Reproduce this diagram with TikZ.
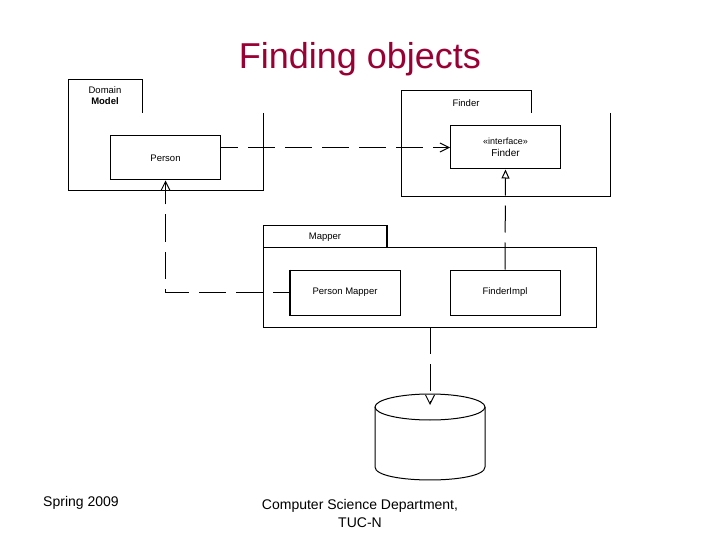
\documentclass[tikz,border=0pt]{standalone}
\usepackage{fontspec}
\setmainfont{Liberation Sans}
\usetikzlibrary{arrows.meta}
\definecolor{titlered}{RGB}{153,0,51}
\begin{document}
\begin{tikzpicture}[x=1pt,y=-1pt,line width=1pt,
  box/.style={draw, rectangle, minimum width=110pt, minimum height=44pt, inner sep=0pt, font=\fontsize{9.5}{11}\selectfont},
  small/.style={font=\fontsize{9.5}{11}\selectfont, inner sep=0pt, align=center},
  dep/.style={dash pattern=on 27pt off 10pt, dash phase=10pt, -{Straight Barb[length=9pt,width=9pt]}},
  real/.style={dash pattern=on 27pt off 10pt, -{Triangle[open,length=9pt,width=8pt]}},
  heavy/.style={line width=2pt}]
\useasboundingbox (0,0) rectangle (720,540);
% title and footer
\node[text=titlered, font=\fontsize{36}{40}\selectfont, inner sep=0pt] (title) at (360,59) {Finding objects};
\node[font=\fontsize{14}{18}\selectfont, inner sep=0pt] (spring) at (81,503) {Spring 2009};
\node[font=\fontsize{14}{18}\selectfont, inner sep=0pt, align=center] (dept) at (360,513) {Computer Science Department,\\TUC-N};
% Domain Model package
\draw (263,113) -- (263,191) -- (68,191) -- (68,80) -- (142,80) -- (142,113);
\node[small] (dmlabel) at (105,96) {Domain\\\textbf{Model}};
% Finder package
\draw (610,113) -- (610,197) -- (401,197) -- (401,91) -- (531,91) -- (531,113);
\node[small] (finderlabel) at (466,103) {Finder};
% Mapper package
\draw (263,247) -- (263,226) -- (387,226) -- (387,247);
\draw[heavy] (387,226) -- (387,247);
\draw (263,247) rectangle (596,327);
\node[small] (mapperlabel) at (325,237) {Mapper};
% classes
\node[box] (person) at (165.5,158) {Person};
\node[box, minimum height=43pt, align=center] (iface) at (505.5,147.5) {{\fontsize{9}{11}\selectfont «interface»}\\[1pt]{\fontsize{10}{11}\selectfont Finder}};
\node[box, minimum height=45pt] (pmapper) at (345,292.5) {Person Mapper};
\draw[heavy] (pmapper.north west) -- (pmapper.south west);
\node[box, minimum height=45pt] (fimpl) at (505,292.5) {FinderImpl};
% database
\draw (375,407) -- (375,467) .. controls (375,484.3) and (485,484.3) .. (485,467) -- (485,407);
\draw (430,407) ellipse [x radius=55, y radius=13];
\coordinate (mapbot) at (430,327);
\coordinate (dbtop) at (430,405);
% connectors
\draw[dep] (person.east |- iface.west) -- (iface.west);
\draw[dep] (pmapper.west) -| (person.south);
\draw[real] (fimpl.north) -- (iface.south);
\draw[dep, dash phase=0pt] (mapbot) -- (dbtop);
\end{tikzpicture}
\end{document}
